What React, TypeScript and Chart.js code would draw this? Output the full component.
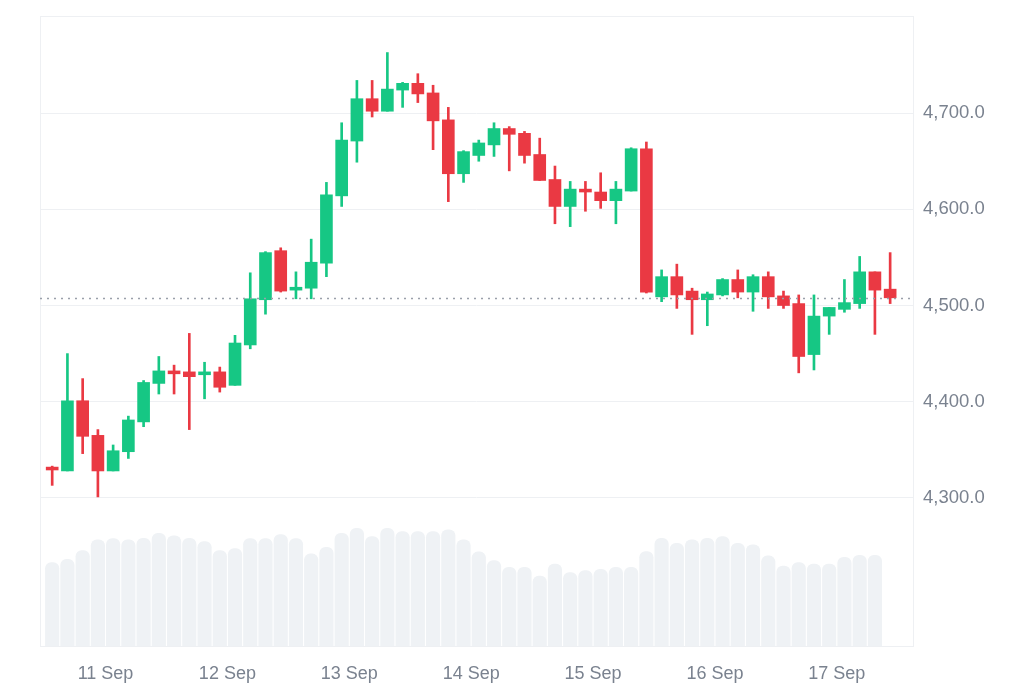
import React, { useEffect, useRef } from "react";
import { Chart, registerables } from "chart.js";

Chart.register(...registerables);

// 3-hour candles starting 10 Sep 12:00 (hours counted from 10 Sep 00:00)
const startHour = 12;
const stepHours = 3;

const opens = [
  4332, 4328, 4401, 4365, 4328, 4348, 4379, 4419, 4432, 4431,
  4428, 4431, 4417, 4459, 4506, 4557, 4516, 4518, 4544, 4614,
  4671, 4715, 4702, 4724, 4731, 4721, 4693, 4637, 4656, 4667,
  4684, 4679, 4657, 4631, 4603, 4621, 4618, 4609, 4619, 4663,
  4509, 4530, 4515, 4506, 4511, 4527, 4514, 4530, 4510, 4502,
  4449, 4489, 4496, 4502, 4535, 4517,
];
const highs = [
  4333, 4450, 4424, 4371, 4355, 4385, 4422, 4447, 4438, 4471,
  4441, 4436, 4469, 4534, 4556, 4560, 4535, 4569, 4628, 4690,
  4734, 4734, 4763, 4732, 4741, 4729, 4706, 4661, 4672, 4690,
  4686, 4681, 4674, 4645, 4629, 4629, 4638, 4629, 4664, 4670,
  4537, 4543, 4518, 4514, 4528, 4537, 4532, 4535, 4515, 4511,
  4511, 4498, 4527, 4551, 4535, 4555,
];
const lows = [
  4313, 4328, 4346, 4301, 4328, 4341, 4374, 4408, 4408, 4371,
  4403, 4410, 4417, 4455, 4491, 4514, 4507, 4507, 4530, 4603,
  4649, 4696, 4702, 4706, 4711, 4662, 4608, 4628, 4650, 4655,
  4640, 4648, 4630, 4585, 4582, 4598, 4601, 4585, 4619, 4513,
  4504, 4497, 4470, 4479, 4510, 4508, 4494, 4497, 4497, 4430,
  4433, 4470, 4493, 4497, 4470, 4502,
];
const closes = [
  4329, 4401, 4364, 4328, 4349, 4381, 4420, 4432, 4429, 4426,
  4431, 4415, 4461, 4507, 4555, 4515, 4519, 4545, 4615, 4672,
  4715, 4702, 4725, 4731, 4720, 4692, 4637, 4660, 4669, 4684,
  4678, 4656, 4630, 4603, 4621, 4618, 4609, 4621, 4663, 4514,
  4530, 4511, 4506, 4512, 4527, 4514, 4530, 4509, 4500, 4447,
  4489, 4498, 4503, 4535, 4516, 4508,
];
const volumes = [
  250, 260, 286, 318, 322, 318, 323, 338, 330, 323,
  313, 286, 292, 322, 322, 334, 322, 276, 296, 338,
  353, 328, 353, 343, 343, 343, 348, 318, 282, 256,
  236, 236, 210, 246, 220, 226, 230, 236, 236, 283,
  323, 308, 318, 323, 328, 308, 303, 270, 240, 250,
  246, 246, 266, 272, 272,
];
const dayTicks = [24, 48, 72, 96, 120, 144, 168];
const dayLabels = ["11 Sep", "12 Sep", "13 Sep", "14 Sep", "15 Sep", "16 Sep", "17 Sep"];
const priceTicks = [4300, 4400, 4500, 4600, 4700];

const GREEN = "#16c784";
const RED = "#ea3943";
const LABEL = "#7a828f";
const GRID = "#eef0f3";
const FONT = "Liberation Sans, Arial, sans-serif";

export default function App() {
  const ref = useRef<HTMLCanvasElement | null>(null);

  useEffect(() => {
    if (!ref.current) return;
    const xs = opens.map((_, i) => startHour + stepHours * i + stepHours / 2);
    const colors = opens.map((o, i) => (closes[i] >= o ? GREEN : RED));
    const lastClose = closes[closes.length - 1];

    const framePlugin = {
      id: "frame",
      beforeDatasetsDraw(chart: any) {
        const { ctx, chartArea } = chart;
        ctx.save();
        ctx.strokeStyle = GRID;
        ctx.lineWidth = 1;
        ctx.strokeRect(
          Math.round(chartArea.left) + 0.5,
          Math.round(chartArea.top) + 0.5,
          Math.round(chartArea.right - chartArea.left),
          Math.round(chartArea.bottom - chartArea.top)
        );
        ctx.restore();
      },
      afterDatasetsDraw(chart: any) {
        const { ctx, chartArea } = chart;
        const y = Math.round(chart.scales.y.getPixelForValue(lastClose)) + 0.5;
        ctx.save();
        ctx.strokeStyle = "#9aa0aa";
        ctx.lineWidth = 1.5;
        ctx.setLineDash([2, 5]);
        ctx.beginPath();
        ctx.moveTo(chartArea.left, y);
        ctx.lineTo(chartArea.right, y);
        ctx.stroke();
        ctx.restore();
      },
    };

    const chart = new Chart(ref.current, {
      type: "bar",
      data: {
        datasets: [
          {
            label: "body",
            data: xs.map((x, i) => ({ x, y: [opens[i], closes[i]] })) as any,
            backgroundColor: colors,
            barThickness: 12,
            minBarLength: 2,
            grouped: false,
            yAxisID: "y",
            order: 0,
          } as any,
          {
            label: "wick",
            data: xs.map((x, i) => ({ x, y: [lows[i], highs[i]] })) as any,
            backgroundColor: colors,
            barThickness: 2,
            grouped: false,
            yAxisID: "y",
            order: 1,
          } as any,
          {
            label: "volume",
            data: volumes.map((v, i) => ({ x: xs[i], y: v })) as any,
            backgroundColor: "#eff2f5",
            barThickness: 13.5,
            borderRadius: { topLeft: 6, topRight: 6, bottomLeft: 0, bottomRight: 0 },
            borderSkipped: "bottom",
            grouped: false,
            yAxisID: "vol",
            order: 2,
          } as any,
        ],
      },
      options: {
        animation: false,
        responsive: false,
        maintainAspectRatio: false,
        layout: { padding: { left: 40, top: 16, right: 0, bottom: 0 } },
        plugins: { legend: { display: false }, tooltip: { enabled: false } },
        scales: {
          x: {
            type: "linear",
            min: 11.1,
            max: 183,
            offset: false,
            grid: { display: false, drawTicks: false },
            border: { display: false },
            afterBuildTicks: (scale: any) => {
              scale.ticks = dayTicks.map((v) => ({ value: v }));
            },
            afterFit: (scale: any) => {
              scale.height = 37;
              scale.paddingLeft = 0;
              scale.paddingRight = 0;
            },
            ticks: {
              autoSkip: false,
              maxRotation: 0,
              padding: 17,
              color: LABEL,
              font: { family: FONT, size: 18 },
              callback: (v: any) => {
                const idx = dayTicks.indexOf(Number(v));
                return idx >= 0 ? dayLabels[idx] : "";
              },
            },
          },
          y: {
            type: "linear",
            position: "right",
            min: 4146,
            max: 4801,
            grid: { color: GRID, drawTicks: false, lineWidth: 1 },
            border: { display: false },
            afterBuildTicks: (scale: any) => {
              scale.ticks = priceTicks.map((v) => ({ value: v }));
            },
            afterFit: (scale: any) => {
              scale.width = 111;
              scale.paddingTop = 0;
              scale.paddingBottom = 0;
            },
            ticks: {
              padding: 10,
              color: LABEL,
              font: { family: FONT, size: 18.5 },
              callback: (v: any) =>
                Number(v).toLocaleString("en-US", {
                  minimumFractionDigits: 1,
                  maximumFractionDigits: 1,
                }),
            },
          },
          vol: {
            type: "linear",
            display: false,
            min: 0,
            max: 1889,
          },
        },
      } as any,
      plugins: [framePlugin],
    });
    return () => chart.destroy();
  }, []);

  return (
    <div style={{ position: "fixed", left: 0, top: 0, width: 1024, height: 683, background: "#fff" }}>
      <canvas ref={ref} width={1024} height={683} style={{ width: 1024, height: 683, display: "block" }} />
    </div>
  );
}
